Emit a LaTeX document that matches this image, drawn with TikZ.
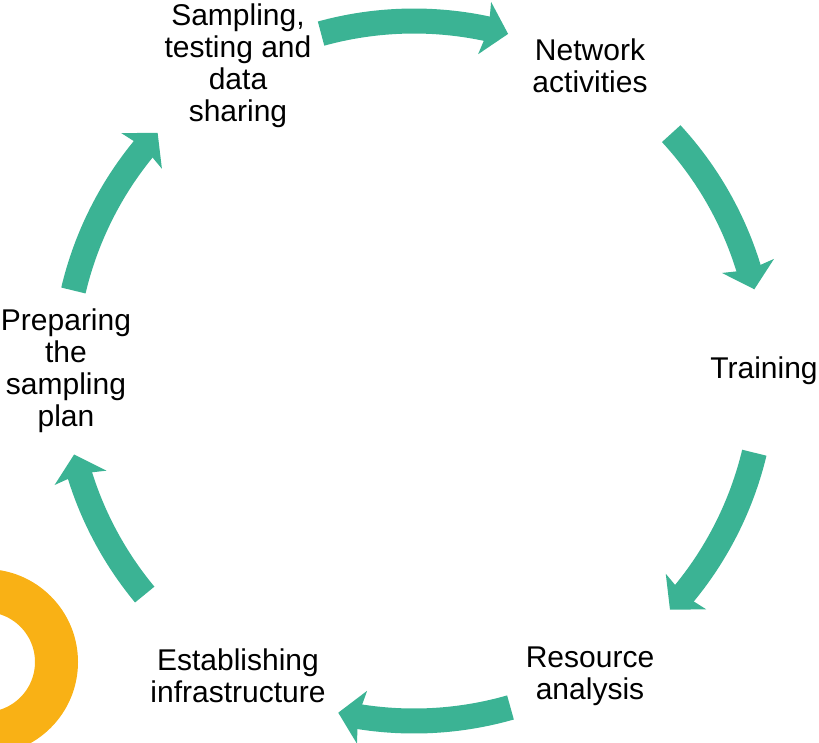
\documentclass[tikz,border=0pt]{standalone}
\usepackage{fontspec}
\setmainfont{Liberation Sans}
\usetikzlibrary{arrows.meta,bending}
\definecolor{cycleteal}{HTML}{3BB394}
\definecolor{ringorange}{HTML}{F9B115}

\begin{document}
\begin{tikzpicture}[x=1pt,y=1pt,
				step label/.style={align=center,inner sep=0pt,font=\fontsize{30}{32}\selectfont},
				cyclearrow/.style={draw=cycleteal,line width=25pt,-{Stealth[length=24pt,width=53pt,inset=4pt,flex]}}]
				\useasboundingbox (0,-742) rectangle (819,0);
				\clip (0,-742) rectangle (819,0);
				\coordinate (C) at (414,-371);
				
				\draw[ringorange,line width=43pt] (-15,-662) circle[radius=71.5];
				
				\node (SAMPLING) [step label] at ([shift={(120:352)}]C)  {Sampling,\\testing and\\data\\sharing};
				\node (NETWORK)  [step label] at ([shift={(60:352)}]C)   {Network\\activities};
				\node (TRAINING) [step label] at ([shift={(0:350)}]C)    {Training};
				\node (RESOURCE) [step label] at ([shift={(-60:352)}]C)  {Resource\\analysis};
				\node (INFRA)    [step label] at ([shift={(-120:352)}]C) {Establishing\\infrastructure};
				\node (PLAN)     [step label] at ([shift={(180:348)}]C)  {Preparing\\the\\sampling\\plan};
				
				\draw[cyclearrow] ([shift={(105.4:350)}]C) arc[start angle=105.4,end angle=74.4,radius=350];
				\draw[cyclearrow] ([shift={(42.7:350)}]C)  arc[start angle=42.7,end angle=13.5,radius=350];
				\draw[cyclearrow] ([shift={(-13.5:350)}]C) arc[start angle=-13.5,end angle=-43,radius=350];
				\draw[cyclearrow] ([shift={(-74:350)}]C)   arc[start angle=-74,end angle=-102.5,radius=350];
				\draw[cyclearrow] ([shift={(219.7:350)}]C) arc[start angle=219.7,end angle=193.8,radius=350];
				\draw[cyclearrow] ([shift={(166.7:350)}]C) arc[start angle=166.7,end angle=137.1,radius=350];
			\end{tikzpicture}
\end{document}
